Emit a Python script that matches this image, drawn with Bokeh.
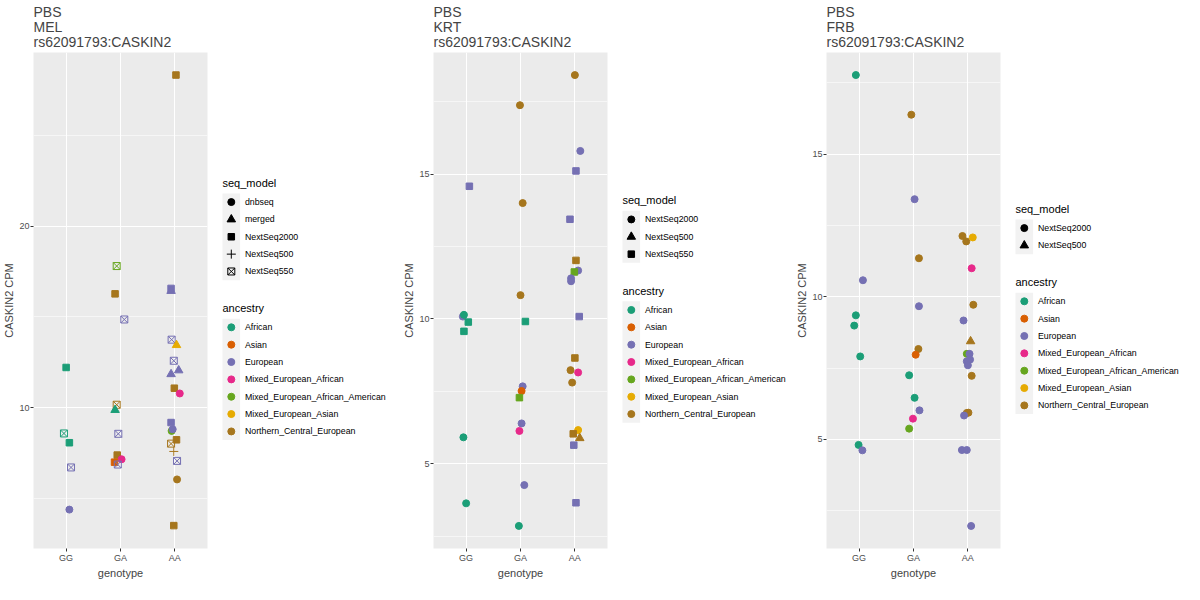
from bokeh.plotting import figure
from bokeh.layouts import row
from bokeh.models import ColumnDataSource, Range1d, FixedTicker
from bokeh.palettes import Dark2
from bokeh.core.properties import value
from bokeh.embed import file_html
from bokeh.resources import INLINE

FONT = "Liberation Sans"

# ancestry levels (Dark2 colours in this order)
ANCESTRY = {"AFR": "African", "ASN": "Asian", "EUR": "European", "MEA": "Mixed_European_African",
            "MEAA": "Mixed_European_African_American", "MEAS": "Mixed_European_Asian",
            "NCE": "Northern_Central_European"}
GENOTYPES = ["GG", "GA", "AA"]
SNP = "rs62091793:CASKIN2"

# --- PBS / MEL ---
mel_seq_models = ["dnbseq", "merged", "NextSeq2000", "NextSeq500", "NextSeq550"]
mel_genotype = ["GG"] * 5 + ["GA"] * 10 + ["AA"] * 19
mel_jitter = [0.00, -0.04, 0.06, 0.09, 0.06,
              -0.07, -0.10, 0.07, -0.07, -0.10, -0.04, -0.06, 0.02, -0.11, -0.05,
              0.02, -0.07, -0.07, -0.06, 0.03, -0.02, 0.07, -0.07, -0.01, 0.09, -0.07, -0.06, -0.04, 0.03,
              -0.07, -0.02, 0.04, 0.04, -0.02]
mel_cpm = [12.22, 8.59, 8.08, 6.72, 4.40,
           17.80, 16.27, 14.86, 10.17, 9.88, 8.57, 7.40, 7.17, 7.01, 6.88,
           28.31, 16.57, 16.43, 13.75, 13.45, 12.59, 12.06, 11.85, 11.08, 10.79, 9.19, 8.73, 8.82, 8.24,
           8.03, 7.60, 7.08, 6.06, 3.52]
mel_ancestry = ["AFR", "AFR", "AFR", "EUR", "EUR",
                "MEAA", "NCE", "EUR", "NCE", "AFR", "EUR", "NCE", "MEA", "ASN", "EUR",
                "NCE", "EUR", "EUR", "EUR", "MEAS", "EUR", "EUR", "EUR", "NCE", "MEA", "EUR", "MEAA", "EUR", "NCE",
                "NCE", "NCE", "EUR", "NCE", "NCE"]
mel_seq = ["NextSeq2000", "NextSeq550", "NextSeq2000", "NextSeq550", "dnbseq",
           "NextSeq550", "NextSeq2000", "NextSeq550", "NextSeq550", "merged", "NextSeq550", "NextSeq2000",
           "dnbseq", "NextSeq2000", "NextSeq550",
           "NextSeq2000", "NextSeq2000", "merged", "NextSeq550", "merged", "NextSeq550", "merged", "merged",
           "NextSeq2000", "dnbseq", "NextSeq2000", "dnbseq", "dnbseq", "NextSeq2000",
           "NextSeq550", "NextSeq500", "NextSeq550", "dnbseq", "NextSeq2000"]

# --- PBS / KRT ---
krt_seq_models = ["NextSeq2000", "NextSeq500", "NextSeq550"]
krt_genotype = ["GG"] * 7 + ["GA"] * 11 + ["AA"] * 19
krt_jitter = [0.06, -0.06, -0.04, 0.04, -0.04, -0.05, 0.00,
              -0.01, 0.04, 0.00, 0.09, 0.04, 0.02, -0.02, 0.02, -0.02, 0.07, -0.03,
              0.00, 0.10, 0.02, -0.09, 0.02, 0.06, -0.01, -0.07, -0.07, 0.08, 0.00, -0.08, 0.06, -0.05,
              0.06, -0.03, 0.09, -0.02, 0.02]
krt_cpm = [14.58, 10.08, 10.14, 9.89, 9.57, 5.91, 3.63,
           17.38, 14.00, 10.82, 9.91, 7.67, 7.51, 7.28, 6.39, 6.13, 4.26, 2.85,
           18.42, 15.80, 15.11, 13.44, 12.02, 11.67, 11.62, 11.40, 11.30, 10.08, 8.65, 8.23, 8.15, 7.80,
           6.16, 6.03, 5.88, 5.64, 3.65]
krt_ancestry = ["EUR", "EUR", "AFR", "AFR", "AFR", "AFR", "AFR",
                "NCE", "NCE", "NCE", "AFR", "EUR", "ASN", "MEAA", "EUR", "MEA", "EUR", "AFR",
                "NCE", "EUR", "EUR", "EUR", "NCE", "EUR", "MEAA", "EUR", "EUR", "EUR", "NCE", "NCE", "MEA", "NCE",
                "MEAS", "NCE", "NCE", "EUR", "EUR"]
krt_seq = ["NextSeq550", "NextSeq2000", "NextSeq2000", "NextSeq550", "NextSeq550", "NextSeq2000", "NextSeq2000",
           "NextSeq2000", "NextSeq2000", "NextSeq2000", "NextSeq550", "NextSeq2000", "NextSeq2000", "NextSeq550",
           "NextSeq2000", "NextSeq2000", "NextSeq2000", "NextSeq2000",
           "NextSeq2000", "NextSeq2000", "NextSeq550", "NextSeq550", "NextSeq550", "NextSeq2000", "NextSeq550",
           "NextSeq2000", "NextSeq2000", "NextSeq550", "NextSeq550", "NextSeq2000", "NextSeq2000", "NextSeq2000",
           "NextSeq2000", "NextSeq550", "NextSeq500", "NextSeq550", "NextSeq550"]

# --- PBS / FRB ---
frb_seq_models = ["NextSeq2000", "NextSeq500"]
frb_genotype = ["GG"] * 7 + ["GA"] * 11 + ["AA"] * 19
frb_jitter = [-0.06, 0.07, -0.06, -0.09, 0.02, -0.01, 0.06,
              -0.04, 0.02, 0.10, 0.10, 0.09, 0.04, -0.08, 0.02, 0.11, -0.01, -0.08,
              -0.10, -0.03, 0.09, 0.07, 0.10, -0.08, 0.05, -0.02, 0.03, 0.04, -0.02, 0.00, 0.07, -0.02,
              0.01, -0.07, -0.11, -0.02, 0.06]
frb_cpm = [17.77, 10.58, 9.35, 8.99, 7.91, 4.81, 4.62,
           16.38, 13.42, 11.35, 9.67, 8.17, 7.97, 7.25, 6.46, 6.02, 5.73, 5.38,
           12.13, 11.94, 12.08, 11.00, 9.72, 9.17, 8.44, 8.00, 8.00, 7.80, 7.74, 7.60, 7.23, 5.93,
           5.94, 5.84, 4.63, 4.63, 1.97]
frb_ancestry = ["AFR", "EUR", "AFR", "AFR", "AFR", "AFR", "EUR",
                "NCE", "EUR", "NCE", "EUR", "NCE", "ASN", "AFR", "AFR", "EUR", "MEA", "MEAA",
                "NCE", "NCE", "MEAS", "MEA", "NCE", "EUR", "NCE", "MEAA", "EUR", "EUR", "EUR", "EUR", "NCE", "NCE",
                "NCE", "EUR", "EUR", "EUR", "EUR"]
frb_seq = ["NextSeq2000"] * 24 + ["NextSeq500"] + ["NextSeq2000"] * 12

SHAPES = ["circle", "triangle", "square", "cross", "square_x"]
SIZES = {"circle": 7, "triangle": 8.5, "square": 6.5, "cross": 9, "square_x": 7}
OPEN = {"cross", "square_x"}
COLORS = dict(zip(ANCESTRY.keys(), Dark2[7]))

W_PLOT, H = 212, 584
TOP, BOTTOM = 52, 36
LEGEND_MID = 308


def panel(tissue, genotype, jitter, cpm, ancestry, seq, seq_models, y_range, ticks, minor):
    shape = {m: SHAPES[i] for i, m in enumerate(seq_models)}
    mk = [shape[s] for s in seq]
    source = ColumnDataSource(data={
        "x": [GENOTYPES.index(g) + 1 + j for g, j in zip(genotype, jitter)],
        "y": cpm,
        "color": [COLORS[a] for a in ancestry],
        "marker": mk,
        "size": [SIZES[m] for m in mk],
        "fa": [0.0 if m in OPEN else 1.0 for m in mk],
    })

    p = figure(width=W_PLOT, height=H, x_range=Range1d(0.4, 3.6), y_range=Range1d(*y_range),
               toolbar_location=None, output_backend="svg",
               min_border_left=33, min_border_right=5, min_border_top=TOP, min_border_bottom=BOTTOM)
    p.title.text = "PBS\n%s\n%s" % (tissue, SNP)
    p.title.text_font = FONT
    p.title.text_font_size = "14px"
    p.title.text_font_style = "normal"
    p.title.text_line_height = 0.95
    p.title.standoff = 4
    p.background_fill_color = "#EBEBEB"
    p.outline_line_color = None

    p.scatter(x="x", y="y", marker="marker", size="size", source=source,
              fill_color="color", fill_alpha="fa", line_color="color", line_width=1)

    p.xaxis.ticker = FixedTicker(ticks=[1, 2, 3])
    p.xaxis.major_label_overrides = {1: "GG", 2: "GA", 3: "AA"}
    p.yaxis.ticker = FixedTicker(ticks=ticks, minor_ticks=minor)
    p.xaxis.axis_label = "genotype"
    p.yaxis.axis_label = "CASKIN2 CPM"
    for ax in (p.xaxis, p.yaxis):
        ax.axis_line_color = None
        ax.major_tick_in = 0
        ax.major_tick_out = 3
        ax.minor_tick_out = 0
        ax.minor_tick_in = 0
        ax.major_tick_line_color = "#333333"
        ax.major_label_text_color = "#4D4D4D"
        ax.major_label_text_font = FONT
        ax.major_label_text_font_size = "9px"
        ax.major_label_standoff = 1
        ax.axis_label_text_font = FONT
        ax.axis_label_text_font_size = "11px"
        ax.axis_label_text_font_style = "normal"
        ax.axis_label_standoff = 1

    p.grid.grid_line_color = "white"
    p.grid.grid_line_width = 1.1
    p.ygrid.minor_grid_line_color = "white"
    p.ygrid.minor_grid_line_width = 0.55
    return p


def legend(seq_models, w):
    # frame borders follow the row's aligned borders, so y data units = pixels of the figure
    lf = figure(width=w, height=H, x_range=Range1d(0, w), y_range=Range1d(H - BOTTOM, TOP),
                toolbar_location=None, output_backend="svg",
                min_border_left=0, min_border_right=0, min_border_top=TOP, min_border_bottom=BOTTOM,
                x_axis_location=None, y_axis_location=None)
    lf.grid.visible = False
    lf.outline_line_color = None

    step = 17.35
    n1, n2 = len(seq_models), len(ANCESTRY)
    total = 55 + step * (n1 + n2)
    t1 = LEGEND_MID - total / 2 + 6
    b1 = t1 + 10.5
    t2 = b1 + step * n1 + 28
    b2 = t2 + 10.5

    lf.quad(left=[10, 10], right=[27.6, 27.6], top=[b1, b2], bottom=[b1 + step * n1, b2 + step * n2],
            fill_color="#F2F2F2", line_color=None)

    y1 = [b1 + step * (i + 0.5) for i in range(n1)]
    mk = SHAPES[:n1]
    lf.scatter(x=[18.8] * n1, y=y1, marker=mk, size=[SIZES[m] for m in mk],
               fill_color="black", fill_alpha=[0.0 if m in OPEN else 1.0 for m in mk],
               line_color="black", line_width=1)
    y2 = [b2 + step * (i + 0.5) for i in range(n2)]
    lf.scatter(x=[18.8] * n2, y=y2, marker="circle", size=7, color=list(COLORS.values()))

    lf.text(x=[10, 10], y=[t1, t2], text=["seq_model", "ancestry"], text_font=value(FONT),
            text_font_size="11px", text_baseline="middle", text_color="black")
    lf.text(x=[32.4] * (n1 + n2), y=y1 + y2, text=seq_models + list(ANCESTRY.values()),
            text_font=value(FONT), text_font_size="8.8px", text_baseline="middle", text_color="black")
    return lf


p_mel = panel("MEL", mel_genotype, mel_jitter, mel_cpm, mel_ancestry, mel_seq, mel_seq_models,
              (2.26, 29.55), [10, 20], [5, 15, 25])
p_krt = panel("KRT", krt_genotype, krt_jitter, krt_cpm, krt_ancestry, krt_seq, krt_seq_models,
              (2.07, 19.2), [5, 10, 15], [2.5, 7.5, 12.5, 17.5])
p_frb = panel("FRB", frb_genotype, frb_jitter, frb_cpm, frb_ancestry, frb_seq, frb_seq_models,
              (1.18, 18.56), [5, 10, 15], [2.5, 7.5, 12.5, 17.5])

p = row(p_mel, legend(mel_seq_models, 188), p_krt, legend(krt_seq_models, 181),
        p_frb, legend(frb_seq_models, 179))

open("out.html", "w").write(file_html(p, INLINE))
